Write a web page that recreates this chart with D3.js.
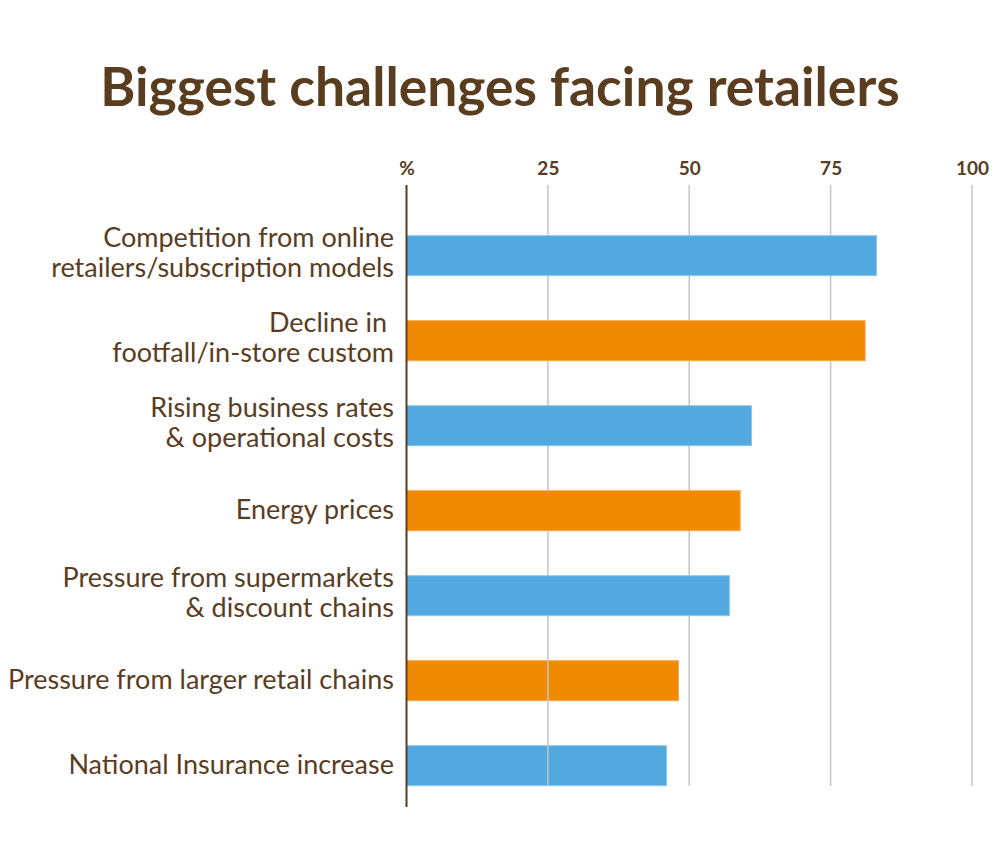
<!DOCTYPE html>
<html>
<head>
<meta charset="utf-8">
<script src="https://cdn.jsdelivr.net/npm/d3@7"></script>
<style>
  body { margin: 0; background: #fff; }
  svg text { font-family: Lato, "Open Sans", sans-serif; }
</style>
</head>
<body>
<script>
const categories = [
  ['Competition from online', 'retailers/subscription models'],
  ['Decline in ', 'footfall/in-store custom'],
  ['Rising business rates', '& operational costs'],
  ['Energy prices'],
  ['Pressure from supermarkets', '& discount chains'],
  ['Pressure from larger retail chains'],
  ['National Insurance increase']
];
const values = [83.1, 81.1, 61.0, 59.0, 57.1, 48.1, 46.0];
const tickValues = [0, 25, 50, 75, 100];
const tickLabels = ['%', '25', '50', '75', '100'];

const w = 1000;
const h = 867;
const brown = '#5a3d1f';
const colors = ['#52a9df', '#f08a00'];

const data = categories.map((c, i) => ({ key: i, lines: c, value: values[i] }));

const x = d3.scaleLinear().domain([0, 100]).range([406.5, 972]);
const y = d3.scaleBand()
  .domain(data.map(d => d.key))
  .range([213.2, 808.2])
  .paddingInner(45 / 85)
  .paddingOuter(45 / 170);

const svg = d3.select('body').append('svg')
  .attr('width', w)
  .attr('height', h);

svg.append('text')
  .attr('x', 500)
  .attr('y', 106)
  .attr('text-anchor', 'middle')
  .attr('font-size', 53.4)
  .attr('font-weight', 700)
  .attr('fill', brown)
  .text('Biggest challenges facing retailers');

const drawBars = (sel) => sel.append('rect')
  .attr('x', x(0))
  .attr('y', d => y(d.key))
  .attr('width', d => x(d.value) - x(0))
  .attr('height', y.bandwidth())
  .attr('fill', d => colors[d.key % 2])
  .attr('stroke', d => d.key % 2 ? '#f5a94a' : '#8ec7ec')
  .attr('stroke-width', 1);

// the two shortest bars sit under the gridlines, as in the original
svg.append('g').selectAll('g').data(data.filter(d => d.key >= 5)).join('g').call(drawBars);

const grid = svg.append('g');
grid.selectAll('line')
  .data(tickValues.slice(1))
  .join('line')
  .attr('x1', d => x(d)).attr('x2', d => x(d))
  .attr('y1', 185).attr('y2', y(6) + y.bandwidth())
  .attr('stroke', '#c4c4c4')
  .attr('stroke-width', 1.5);

svg.append('g').selectAll('g').data(data.filter(d => d.key < 5)).join('g').call(drawBars);

// axis line
svg.append('line')
  .attr('x1', x(0)).attr('x2', x(0))
  .attr('y1', 185).attr('y2', 807)
  .attr('stroke', brown)
  .attr('stroke-width', 2);

// tick labels on top
const xAxis = d3.axisTop(x)
  .tickValues(tickValues)
  .tickFormat((d, i) => tickLabels[i])
  .tickSize(0)
  .tickPadding(0);

const ax = svg.append('g')
  .attr('transform', 'translate(0,175)')
  .call(xAxis);
ax.select('.domain').remove();
ax.selectAll('text')
  .attr('font-size', 19)
  .attr('font-weight', 700)
  .attr('fill', brown)
  .attr('font-family', 'Lato, sans-serif');

// category labels
const lineH = 30;
const labels = svg.append('g').selectAll('text')
  .data(data)
  .join('text')
  .attr('text-anchor', 'end')
  .attr('font-size', 27)
  .attr('fill', brown)
  .attr('transform', d => `translate(394,${y(d.key) + y.bandwidth() / 2 - (d.lines.length > 1 ? 3 : 1)})`);

labels.selectAll('tspan')
  .data(d => d.lines.map((t, i) => ({ t, i, n: d.lines.length })))
  .join('tspan')
  .attr('x', 0)
  .attr('y', d => (d.i - (d.n - 1) / 2) * lineH)
  .attr('dy', '0.33em')
  .text(d => d.t);
</script>
</body>
</html>
